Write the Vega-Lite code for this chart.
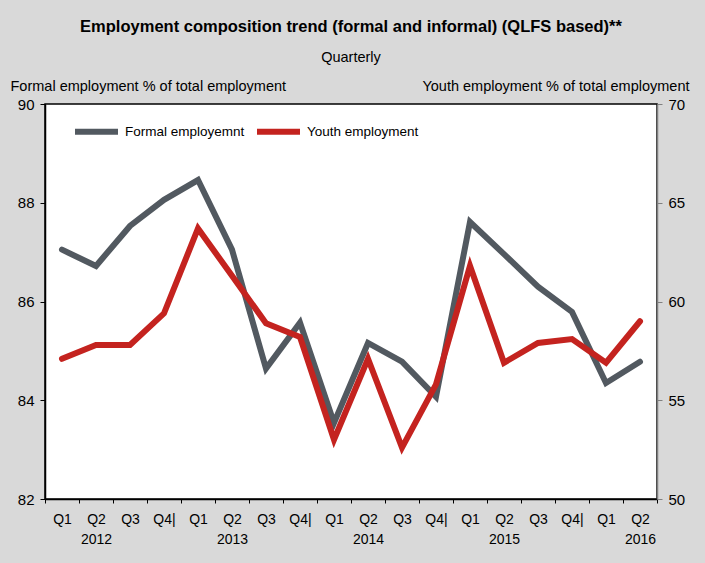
{
  "$schema": "https://vega.github.io/schema/vega-lite/v6.json",
  "width": 612,
  "height": 395,
  "autosize": {"type": "none"},
  "padding": {"left": 45, "top": 104, "right": 48, "bottom": 64},
  "background": "#d9d9d9",
  "config": {
    "font": "Liberation Sans, Arial, sans-serif",
    "view": {"fill": "white", "stroke": "#000000", "strokeWidth": 1.5}
  },
  "title": {
    "text": "Employment composition trend (formal and informal) (QLFS based)**",
    "subtitle": "Quarterly",
    "fontSize": 16.5,
    "fontWeight": "bold",
    "subtitleFontSize": 14.5,
    "subtitlePadding": 15,
    "color": "#000000",
    "subtitleColor": "#000000",
    "anchor": "middle",
    "offset": 14
  },
  "data": {
    "values": [
      {"period": "2012 Q1", "formal": 87.05, "youth": 57.1},
      {"period": "2012 Q2", "formal": 86.72, "youth": 57.8},
      {"period": "2012 Q3", "formal": 87.53, "youth": 57.8},
      {"period": "2012 Q4", "formal": 88.06, "youth": 59.4},
      {"period": "2013 Q1", "formal": 88.46, "youth": 63.7},
      {"period": "2013 Q2", "formal": 87.05, "youth": 61.3},
      {"period": "2013 Q3", "formal": 84.64, "youth": 58.9},
      {"period": "2013 Q4", "formal": 85.57, "youth": 58.2},
      {"period": "2014 Q1", "formal": 83.54, "youth": 53.0},
      {"period": "2014 Q2", "formal": 85.16, "youth": 57.1},
      {"period": "2014 Q3", "formal": 84.78, "youth": 52.6},
      {"period": "2014 Q4", "formal": 84.07, "youth": 55.8},
      {"period": "2015 Q1", "formal": 87.61, "youth": 61.8},
      {"period": "2015 Q2", "formal": 86.96, "youth": 56.9},
      {"period": "2015 Q3", "formal": 86.30, "youth": 57.9},
      {"period": "2015 Q4", "formal": 85.79, "youth": 58.1},
      {"period": "2016 Q1", "formal": 84.35, "youth": 56.9},
      {"period": "2016 Q2", "formal": 84.78, "youth": 59.0}
    ]
  },
  "encoding": {
    "x": {
      "field": "period",
      "type": "ordinal",
      "sort": null,
      "scale": {"type": "band", "paddingInner": 0, "paddingOuter": 0},
      "axis": {
        "title": null,
        "labelAngle": 0,
        "labelFontSize": 14,
        "labelColor": "#000000",
        "labelPadding": 9,
        "labelLineHeight": 20,
        "tickBand": "extent",
        "tickSize": 4,
        "tickColor": "#000000",
        "domainColor": "#000000",
        "domainWidth": 1.5,
        "grid": false,
        "labelExpr": "!isString(datum.value) ? '' : (substring(datum.value,5,7) == 'Q2' ? ['Q2', substring(datum.value,0,4)] : (substring(datum.value,5,7) == 'Q4' ? 'Q4|' : substring(datum.value,5,7)))"
      }
    }
  },
  "layer": [
    {
      "mark": {"type": "line", "strokeWidth": 6, "strokeCap": "round"},
      "encoding": {
        "y": {
          "field": "formal",
          "type": "quantitative",
          "scale": {"domain": [82, 90], "nice": false, "zero": false},
          "axis": {
            "orient": "left",
            "values": [82, 84, 86, 88, 90],
            "title": "Formal employment % of total employment",
            "titleAngle": 0,
            "titleAlign": "left",
            "titleBaseline": "bottom",
            "titleX": -35,
            "titleY": -11,
            "titleFontSize": 14.5,
            "titleFontWeight": "normal",
            "titleColor": "#000000",
            "labelFontSize": 15,
            "labelColor": "#000000",
            "labelPadding": 6,
            "tickSize": 5,
            "tickColor": "#000000",
            "domainColor": "#000000",
            "domainWidth": 1.5,
            "grid": false
          }
        },
        "color": {
          "datum": "Formal employemnt",
          "type": "nominal",
          "scale": {"domain": ["Formal employemnt", "Youth employment"], "range": ["#525960", "#c4231f"]},
          "legend": {
            "title": null,
            "orient": "none",
            "legendX": 27,
            "legendY": 3,
            "direction": "horizontal",
            "symbolType": "stroke",
            "symbolSize": 1849,
            "symbolStrokeWidth": 6,
            "labelFontSize": 13.5,
            "labelColor": "#000000",
            "labelOffset": 4,
            "columnPadding": 0
          }
        }
      }
    },
    {
      "mark": {"type": "line", "strokeWidth": 6, "strokeCap": "round"},
      "encoding": {
        "y": {
          "field": "youth",
          "type": "quantitative",
          "scale": {"domain": [50, 70], "nice": false, "zero": false},
          "axis": {
            "orient": "right",
            "values": [50, 55, 60, 65, 70],
            "title": "Youth employment % of total employment",
            "titleAngle": 0,
            "titleAlign": "right",
            "titleBaseline": "bottom",
            "titleX": 32,
            "titleY": -11,
            "titleFontSize": 14.5,
            "titleFontWeight": "normal",
            "titleColor": "#000000",
            "labelFontSize": 15,
            "labelColor": "#000000",
            "labelPadding": 6,
            "tickSize": 5,
            "tickColor": "#808080",
            "domainColor": "#808080",
            "domainWidth": 1.5,
            "grid": false
          }
        },
        "color": {"datum": "Youth employment", "type": "nominal"}
      }
    }
  ],
  "resolve": {"scale": {"y": "independent"}}
}
